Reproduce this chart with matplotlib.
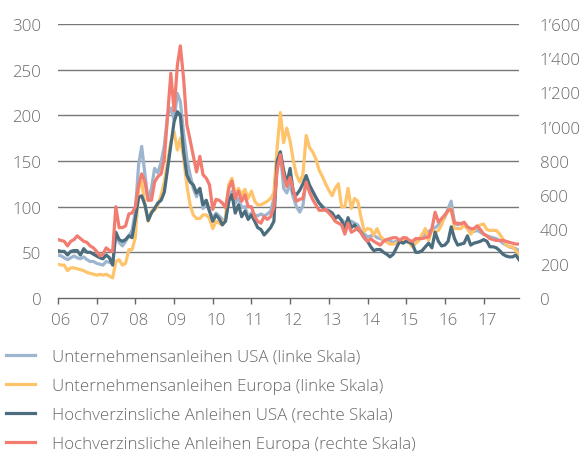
import matplotlib
matplotlib.use('Agg')
import matplotlib.pyplot as plt
import matplotlib.dates as mdates
import matplotlib.transforms as mtransforms
import pandas as pd

plt.rcParams['font.family'] = ['Open Sans', 'DejaVu Sans']
plt.rcParams['font.weight'] = 'light'

# monatliche Werte Jan 2006 - Dez 2017
months = pd.date_range('2006-01-01', periods=144, freq='MS')

# Unternehmensanleihen USA (linke Skala)
corp_usa = [
    47, 46, 44, 42, 44, 46, 44, 43, 45, 42, 40, 40,
    38, 37, 36, 40, 39, 38, 70, 61, 57, 62, 68, 74,
    95, 146, 166, 135, 107, 120, 142, 137, 149, 167, 200, 208,
    195, 224, 215, 180, 153, 135, 120, 111, 120, 98, 105, 95,
    87, 93, 90, 86, 84, 109, 117, 104, 109, 99, 100, 89,
    93, 91, 90, 92, 90, 92, 95, 109, 155, 160, 120, 115,
    125, 110, 100, 94, 101, 130, 122, 116, 110, 104, 100, 98,
    96, 93, 89, 88, 86, 82, 84, 84, 82, 80, 73, 70,
    67, 68, 69, 66, 65, 64, 63, 62, 61, 62, 63, 63,
    63, 62, 59, 61, 65, 67, 70, 73, 75, 77, 80, 84,
    88, 98, 106, 82, 80, 82, 80, 76, 72, 73, 74, 72,
    70, 68, 67, 66, 65, 63, 60, 58, 56, 55, 54, 52,
]

# Unternehmensanleihen Europa (linke Skala)
corp_eur = [
    37, 36, 36, 30, 33, 33, 32, 31, 30, 28, 27, 26,
    25, 26, 25, 26, 24, 22, 40, 42, 36, 38, 53, 53,
    66, 120, 127, 102, 84, 95, 96, 102, 113, 127, 149, 171,
    182, 162, 175, 153, 124, 102, 91, 87, 87, 91, 91, 87,
    76, 84, 82, 80, 88, 124, 131, 113, 120, 113, 119, 109,
    117, 106, 102, 102, 104, 106, 109, 115, 165, 203, 170, 186,
    172, 150, 135, 127, 135, 178, 165, 160, 152, 140, 133, 125,
    118, 112, 120, 125, 100, 100, 120, 98, 109, 106, 88, 73,
    76, 75, 69, 76, 68, 64, 61, 59, 59, 60, 61, 62,
    63, 60, 56, 60, 63, 70, 76, 63, 75, 72, 74, 80,
    90, 95, 98, 76, 76, 76, 80, 76, 70, 74, 78, 80,
    81, 75, 74, 74, 74, 70, 65, 58, 56, 56, 52, 48,
]

# Hochverzinsliche Anleihen USA (rechte Skala)
hy_usa = [
    277, 272, 272, 251, 272, 277, 277, 251, 288, 267, 267, 256,
    245, 235, 229, 251, 235, 192, 384, 341, 331, 341, 363, 352,
    464, 587, 597, 544, 453, 496, 523, 555, 571, 619, 757, 891,
    1029, 1088, 1067, 853, 720, 677, 661, 613, 640, 544, 571, 507,
    448, 485, 464, 427, 448, 565, 603, 496, 544, 475, 507, 459,
    485, 448, 411, 400, 368, 389, 411, 448, 800, 853, 747, 667,
    757, 613, 603, 629, 667, 715, 661, 624, 587, 555, 533, 512,
    507, 496, 464, 480, 453, 405, 469, 411, 427, 400, 384, 352,
    331, 299, 277, 283, 283, 267, 256, 240, 256, 293, 331, 320,
    331, 325, 315, 267, 267, 277, 299, 320, 293, 384, 331, 304,
    309, 331, 416, 347, 309, 315, 320, 363, 309, 320, 325, 331,
    341, 331, 299, 299, 293, 277, 256, 245, 240, 240, 251, 224,
]

# Hochverzinsliche Anleihen Europa (rechte Skala)
hy_eur = [
    341, 336, 331, 304, 331, 341, 363, 347, 331, 325, 304, 293,
    272, 245, 256, 293, 277, 272, 533, 411, 411, 421, 491, 496,
    533, 661, 725, 677, 571, 571, 677, 709, 725, 816, 1067, 1312,
    1093, 1360, 1472, 1280, 1013, 923, 832, 736, 827, 720, 699, 661,
    517, 576, 571, 555, 528, 640, 683, 581, 624, 565, 603, 533,
    533, 475, 448, 437, 475, 459, 475, 528, 747, 837, 720, 651,
    704, 629, 565, 576, 581, 677, 619, 576, 544, 512, 512, 517,
    496, 475, 448, 437, 427, 373, 437, 384, 395, 411, 379, 352,
    331, 347, 331, 320, 309, 331, 341, 347, 352, 352, 336, 352,
    352, 336, 331, 347, 347, 347, 352, 357, 405, 501, 443, 464,
    485, 512, 517, 437, 437, 432, 443, 416, 405, 405, 421, 400,
    373, 363, 347, 341, 336, 336, 336, 331, 325, 320, 315, 315,
]

labels = [
    'Unternehmensanleihen USA (linke Skala)',
    'Unternehmensanleihen Europa (linke Skala)',
    'Hochverzinsliche Anleihen USA (rechte Skala)',
    'Hochverzinsliche Anleihen Europa (rechte Skala)',
]
colors = ['#9db5cf', '#ffc46b', '#4b6d7d', '#f27c6f']
txt = '#6a6a6a'
fs = 12.2

fig = plt.figure(figsize=(5.82, 4.52), dpi=100)
ax = fig.add_axes([58 / 582, 1 - 299 / 452, 461 / 582, 274 / 452])
ax2 = ax.twinx()

lw = 2.3
l1, = ax.plot(months, corp_usa, color=colors[0], lw=lw, label=labels[0])
l2, = ax.plot(months, corp_eur, color=colors[1], lw=lw, label=labels[1])
l3, = ax2.plot(months, hy_usa, color=colors[2], lw=lw, label=labels[2])
l4, = ax2.plot(months, hy_eur, color=colors[3], lw=lw, label=labels[3])

ax.set_ylim(0, 300)
ax2.set_ylim(0, 1600)
ax.set_xlim(months[0], months[-1])
ax.set_yticks(range(0, 301, 50))
ax2.set_yticks(range(0, 1601, 200))
ax2.set_yticklabels([f'{v:,}'.replace(',', '\u2019') for v in range(0, 1601, 200)])

ax.xaxis.set_major_locator(mdates.YearLocator())
ax.xaxis.set_major_formatter(mdates.DateFormatter('%y'))

for a in (ax, ax2):
    for s in ('top', 'left', 'right'):
        a.spines[s].set_visible(False)
ax2.spines['bottom'].set_visible(False)
ax.spines['bottom'].set_color('#666666')
ax.spines['bottom'].set_linewidth(1.0)

for v in range(50, 301, 50):
    ax.axhline(v, color='#777777', lw=1.0, zorder=0)

ax.tick_params(axis='x', direction='out', length=4, width=1, color='#666666',
               labelsize=fs, labelcolor=txt, pad=6)
ax.tick_params(axis='y', length=0, labelsize=fs, labelcolor=txt, pad=12)
ax2.tick_params(axis='y', length=0, labelsize=fs, labelcolor=txt, pad=15)

# Jahreslabels leicht nach rechts versetzt
shift = mtransforms.ScaledTranslation(3 / 100, 0, fig.dpi_scale_trans)
for lab in ax.get_xticklabels():
    lab.set_transform(lab.get_transform() + shift)

leg = fig.legend(handles=[l1, l2, l3, l4], loc='upper left',
                 bbox_to_anchor=(0.010, 1 - 350 / 452), frameon=False,
                 fontsize=fs, handlelength=1.7, handletextpad=1.0,
                 labelspacing=0.76, borderpad=0, borderaxespad=0)
for t in leg.get_texts():
    t.set_color(txt)

fig.savefig('out.png', dpi=100)
plt.close()
